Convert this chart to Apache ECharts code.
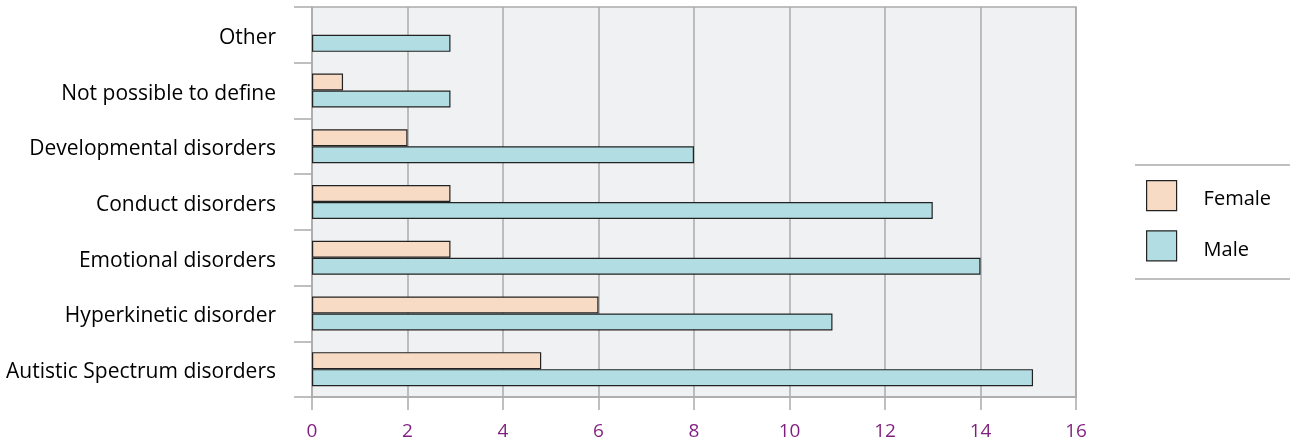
<!DOCTYPE html>
<html>
<head>
<meta charset="utf-8">
<script src="https://cdn.jsdelivr.net/npm/echarts@6/dist/echarts.min.js"></script>
<style>html,body{margin:0;padding:0;background:#fff;}#c{width:1293px;height:443px;}</style>
</head>
<body>
<div id="c"></div>
<script>
// categories listed bottom to top
var categories = ['Autistic Spectrum disorders','Hyperkinetic disorder','Emotional disorders','Conduct disorders','Developmental disorders','Not possible to define','Other'];
var femaleValues = [4.8, 6, 2.9, 2.9, 2, 0.65, null];
var maleValues = [15.1, 10.9, 14, 13, 8, 2.9, 2.9];
var seriesNames = ['Female','Male'];

var FONT = 'Open Sans';
var chart = echarts.init(document.getElementById('c'));
chart.setOption({
  animation: false,
  grid: {left: 312, right: 217, top: 7, bottom: 46, show: true, backgroundColor: '#f0f1f3', borderColor: '#aaaaaa', borderWidth: 1.5},
  xAxis: {
    type: 'value', min: 0, max: 16, interval: 2,
    axisLine: {show: true, lineStyle: {color: '#aaaaaa', width: 1.5}},
    axisTick: {show: true, length: 13, lineStyle: {color: '#aaaaaa', width: 1.5}},
    splitLine: {show: true, lineStyle: {color: '#aaaaaa', width: 1.5}},
    axisLabel: {color: '#7f1f7f', fontSize: 19, fontFamily: FONT, margin: 25}
  },
  yAxis: {
    type: 'category', data: categories,
    axisLine: {show: false},
    axisTick: {show: true, length: 18, lineStyle: {color: '#aaaaaa', width: 1.5}},
    axisLabel: {
      margin: 36,
      formatter: function (v) { return '{a|' + v + '}'; },
      rich: {a: {color: '#000000', fontSize: 21, fontFamily: FONT, padding: [6, 0, 0, 0]}}
    }
  },
  legend: {
    data: seriesNames, orient: 'vertical', left: 1146, top: 180,
    itemWidth: 30, itemHeight: 30, itemGap: 19, padding: 0,
    icon: 'rect',
    itemStyle: {borderColor: '#222222', borderWidth: 1.2},
    formatter: function (n) { return '{a|' + n + '}'; },
    textStyle: {rich: {a: {fontSize: 20, fontFamily: FONT, color: '#000000', padding: [8, 0, 0, 22]}}}
  },
  graphic: [
    {type: 'line', shape: {x1: 1135, y1: 165, x2: 1290, y2: 165}, style: {stroke: '#aaaaaa', lineWidth: 1.5}},
    {type: 'line', shape: {x1: 1135, y1: 279, x2: 1290, y2: 279}, style: {stroke: '#aaaaaa', lineWidth: 1.5}}
  ],
  series: [
    {name: seriesNames[0], type: 'bar', data: femaleValues, barWidth: 17, barGap: '0%',
     itemStyle: {color: '#f8dbc4', borderColor: '#222222', borderWidth: 1.2}},
    {name: seriesNames[1], type: 'bar', data: maleValues, barWidth: 17, barGap: '0%',
     itemStyle: {color: '#b1dde3', borderColor: '#222222', borderWidth: 1.2}}
  ]
});
</script>
</body>
</html>
